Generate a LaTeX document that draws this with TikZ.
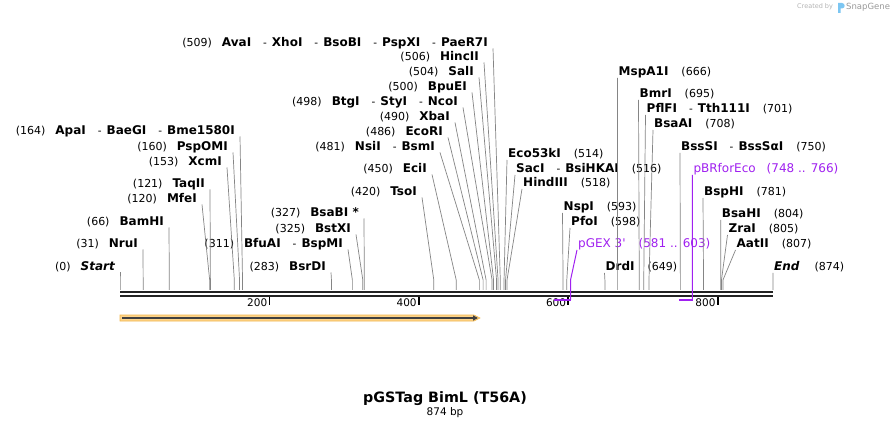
\documentclass[tikz,border=0pt]{standalone}
\usepackage{fontspec}
\setmainfont{DejaVu Sans}
\usetikzlibrary{arrows.meta,positioning}

\definecolor{cutgray}{HTML}{858585}
\definecolor{backbone}{HTML}{222222}
\definecolor{primer}{RGB}{160,32,240}
\definecolor{orffill}{HTML}{FDD48A}
\definecolor{orfdraw}{HTML}{F2B74E}
\definecolor{wmgray}{HTML}{B4B4B4}
\definecolor{snapblue}{HTML}{7CC6F2}

\newcommand{\sitepos}[1]{{\fontsize{11}{13}\selectfont\mdseries(#1)}}
\newcommand{\esep}{\hspace{12pt}{\fontsize{10.5}{12}\selectfont\mdseries -}\hspace{5pt}}

\begin{document}
\begin{tikzpicture}[x=1pt, y=-1pt,
    every node/.style={inner ysep=1pt, font=\fontsize{12}{14}\selectfont\bfseries},
    lsite/.style={anchor=east, inner xsep=5pt},
    rsite/.style={anchor=west, inner xsep=1pt},
    cut/.style={draw=cutgray, line width=0.7pt},
    primerlbl/.style={anchor=west, inner xsep=1pt, text=primer, font=\fontsize{12}{14}\selectfont}]
    \fill[white] (0,0) rectangle (894,430);
    \useasboundingbox (0,0) rectangle (894,430);

    % Sites
    \foreach \p in {0,31,66,120,121,153,160,164,283,311,325,327,420,450,481,486,490,498,500,504,506,509,514,516,518,593,598,649,666,695,701,708,750,781,804,805,807,874}
        \coordinate (s\p) at ({120+0.747139*\p},290);

    % Labels, left side
    \node[lsite] (startmark) at (120,267) {\sitepos{0}\hspace{10pt}{\itshape Start}};
    \node[lsite] (nrui) at (143,244) {\sitepos{31}\hspace{10pt}NruI};
    \node[lsite] (bamhi) at (169,222) {\sitepos{66}\hspace{10pt}BamHI};
    \node[lsite] (mfei) at (202,199) {\sitepos{120}\hspace{10pt}MfeI};
    \node[lsite] (taqii) at (210,184) {\sitepos{121}\hspace{10pt}TaqII};
    \node[lsite] (xcmi) at (227,162) {\sitepos{153}\hspace{10pt}XcmI};
    \node[lsite] (pspomi) at (233,147) {\sitepos{160}\hspace{10pt}PspOMI};
    \node[lsite] (apai) at (240,131) {\sitepos{164}\hspace{10pt}ApaI\esep BaeGI\esep Bme1580I};
    \node[lsite] (bsrdi) at (331,267) {\sitepos{283}\hspace{10pt}BsrDI};
    \node[lsite] (bfuai) at (348,244) {\sitepos{311}\hspace{10pt}BfuAI\esep BspMI};
    \node[lsite] (bstxi) at (356,229) {\sitepos{325}\hspace{10pt}BstXI};
    \node[lsite] (bsabi) at (364,213) {\sitepos{327}\hspace{10pt}BsaBI *};
    \node[lsite] (tsoi) at (422,192) {\sitepos{420}\hspace{10pt}TsoI};
    \node[lsite] (ecii) at (432,169) {\sitepos{450}\hspace{10pt}EciI};
    \node[lsite] (nsii) at (440,147) {\sitepos{481}\hspace{10pt}NsiI\esep BsmI};
    \node[lsite] (ecori) at (448,132) {\sitepos{486}\hspace{10pt}EcoRI};
    \node[lsite] (xbai) at (455,117) {\sitepos{490}\hspace{10pt}XbaI};
    \node[lsite] (ncoi) at (463,102) {\sitepos{498}\hspace{10pt}BtgI\esep StyI\esep NcoI};
    \node[lsite] (bpuei) at (472,87) {\sitepos{500}\hspace{10pt}BpuEI};
    \node[lsite] (sali) at (479,72) {\sitepos{504}\hspace{10pt}SalI};
    \node[lsite] (hincii) at (484,57) {\sitepos{506}\hspace{10pt}HincII};
    \node[lsite] (avai) at (493,43) {\sitepos{509}\hspace{10pt}AvaI\esep XhoI\esep BsoBI\esep PspXI\esep PaeR7I};

    % Labels, right side
    \node[rsite] (ecofk) at (507,154) {Eco53kI\hspace{13pt}\sitepos{514}};
    \node[rsite] (saci) at (515,169) {SacI\esep BsiHKAI\hspace{13pt}\sitepos{516}};
    \node[rsite] (hindiii) at (522,183) {HindIII\hspace{13pt}\sitepos{518}};
    \node[rsite] (nspi) at (562.5,207) {NspI\hspace{13pt}\sitepos{593}};
    \node[rsite] (pfoi) at (570,222) {PfoI\hspace{13pt}\sitepos{598}};
    \node[rsite] (drdi) at (604.5,267) {DrdI\hspace{13pt}\sitepos{649}};
    \node[rsite] (mspai) at (617.5,72) {MspA1I\hspace{13pt}\sitepos{666}};
    \node[rsite] (bmri) at (638.5,94) {BmrI\hspace{13pt}\sitepos{695}};
    \node[rsite] (pflfi) at (645.5,109) {PflFI\esep Tth111I\hspace{13pt}\sitepos{701}};
    \node[rsite] (bsaai) at (653,124) {BsaAI\hspace{13pt}\sitepos{708}};
    \node[rsite] (bsssi) at (680,147) {BssSI\esep BssSαI\hspace{13pt}\sitepos{750}};
    \node[rsite] (bsphi) at (703,192) {BspHI\hspace{13pt}\sitepos{781}};
    \node[rsite] (bsahi) at (720.7,214) {BsaHI\hspace{13pt}\sitepos{804}};
    \node[rsite] (zrai) at (727.5,229) {ZraI\hspace{13pt}\sitepos{805}};
    \node[rsite] (aatii) at (735.5,244) {AatII\hspace{13pt}\sitepos{807}};
    \node[rsite] (endmark) at (773,267) {{\itshape End}\hspace{15pt}\sitepos{874}};

    % Primer labels
    \node[primerlbl] (pgex) at (577,244) {pGEX 3\textquotesingle\hspace{13pt}(581 .. 603)};
    \node[primerlbl] (pbr) at (692.3,169) {pBRforEco\hspace{11pt}(748 .. 766)};

    % Cut lines
    \foreach \s/\n in {0/startmark,31/nrui,66/bamhi,120/mfei,121/taqii,153/xcmi,160/pspomi,164/apai,283/bsrdi,311/bfuai,325/bstxi,327/bsabi,420/tsoi,450/ecii,481/nsii,486/ecori,490/xbai,498/ncoi,500/bpuei,504/sali,506/hincii,509/avai}
        \draw[cut] (s\s) -- ++(0,-10) -- ([yshift=-5.5pt]\n.east);
    \foreach \s/\n in {514/ecofk,516/saci,518/hindiii,593/nspi,598/pfoi,649/drdi,666/mspai,695/bmri,701/pflfi,708/bsaai,750/bsssi,781/bsphi,804/bsahi,805/zrai,807/aatii,874/endmark}
        \draw[cut] (s\s) -- ++(0,-10) -- ([yshift=-6pt]\n.west);

    % Backbone
    \draw[backbone, line width=2.4pt] ([yshift=-2pt]s0) -- ([yshift=-2pt]s874);
    \draw[backbone, line width=2.4pt] ([yshift=-6.3pt]s0) -- ([yshift=-6.3pt]s874);

    % Ticks
    \foreach \t in {200,400,600,800} {
        \draw[black, line width=1.6pt] ({120+0.747139*\t},297) -- ({120+0.747139*\t},305);
        \node[anchor=east, inner xsep=2pt, font=\fontsize{10.5}{12}\selectfont] (t\t) at ({120+0.747139*\t},303) {\t};
    }

    % Primers
    \coordinate (p581) at ({120+0.747139*581},300);
    \coordinate (p603) at ({120+0.747139*603},300);
    \coordinate (p748) at ({120+0.747139*748},300);
    \coordinate (p766) at ({120+0.747139*766},300);
    \draw[primer, line width=2pt] (p581) -- ([xshift=0.8pt]p603);
    \draw[primer, line width=1pt] (p603) -- ++(0,-20) -- ([yshift=-6pt]pgex.west);
    \draw[primer, line width=2pt] (p748) -- ([xshift=0.8pt]p766);
    \draw[primer, line width=1pt] (p766) -- ([yshift=-6pt]pbr.west);

    % ORF
    \filldraw[fill=orffill, draw=orfdraw, line width=0.6pt] (120,315) -- (474,315) -- (480,318) -- (474,321) -- (120,321) -- cycle;
    \draw[black!75, line width=1.5pt, -{Triangle[length=5pt,width=5pt]}] (122,318) -- (478,318);

    % Title
    \node[font=\fontsize{14.3}{17}\selectfont\bfseries] (title) at (445,399) {pGSTag BimL (T56A)};
    \node[font=\fontsize{10.5}{12}\selectfont, below=0pt of title, inner ysep=0pt] (length) {874 bp};

    % Watermark
    \node[anchor=west, inner sep=0pt, text=wmgray, font=\fontsize{6.5}{8}\selectfont] (created) at (797,7) {Created by};
    \fill[snapblue] (838,13) -- (838,3) -- (842,3) .. controls (845.5,3) and (845.5,8.5) .. (842,8.5) -- (840.5,8.5) -- (840.5,13) -- cycle;
    \node[anchor=west, inner sep=0pt, text=gray!80, font=\fontsize{8.5}{10}\selectfont] (snapgene) at (846,7) {SnapGene};
\end{tikzpicture}
\end{document}
